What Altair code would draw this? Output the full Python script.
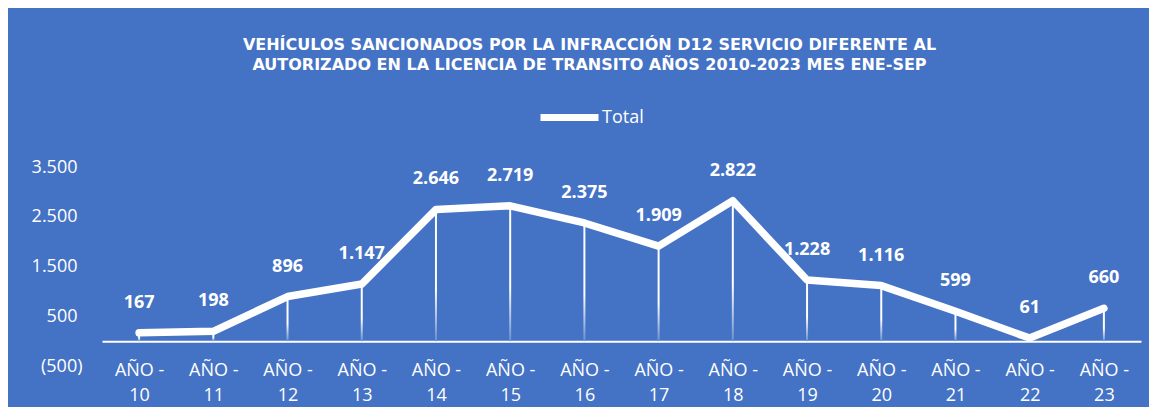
import altair as alt
import pandas as pd

categorias = ["AÑO - 10", "AÑO - 11", "AÑO - 12", "AÑO - 13", "AÑO - 14", "AÑO - 15",
              "AÑO - 16", "AÑO - 17", "AÑO - 18", "AÑO - 19", "AÑO - 20", "AÑO - 21",
              "AÑO - 22", "AÑO - 23"]
valores = [167, 198, 896, 1147, 2646, 2719, 2375, 1909, 2822, 1228, 1116, 599, 61, 660]
serie = ["Total"] * len(categorias)
y_ticks = [-500, 500, 1500, 2500, 3500]
titulo = ["VEHÍCULOS SANCIONADOS POR LA  INFRACCIÓN D12  SERVICIO DIFERENTE  AL",
          "AUTORIZADO EN LA LICENCIA DE TRANSITO  AÑOS 2010-2023 MES ENE-SEP"]

df = pd.DataFrame({"categoria": categorias, "valor": valores, "serie": serie})

BG = "#4472C4"
FONT = "Open Sans"

x_enc = alt.X(
    "categoria:N", sort=categorias,
    scale=alt.Scale(type="point", padding=0.5),
    axis=alt.Axis(
        title=None, labelAngle=0, ticks=False, grid=False,
        domainColor="#ffffff", domainWidth=2,
        labelColor="#ffffff", labelFont=FONT, labelFontSize=18,
        labelPadding=20, labelLineHeight=25, labelBaseline="top",
        labelOverlap=False, labelFlush=False,
        offset=-24.875,
        labelExpr="[slice(datum.label, 0, 5), slice(datum.label, 6)]",
    ),
)
y_enc = alt.Y(
    "valor:Q",
    scale=alt.Scale(domain=[-500, 3500], nice=False, zero=False),
    axis=alt.Axis(
        title=None, values=y_ticks, domain=False, ticks=False, grid=False,
        labelColor="#ffffff", labelFont=FONT, labelFontSize=18,
        labelPadding={"condition": {"test": "datum.value < 0", "value": 20}, "value": 25},
        labelExpr="datum.value < 0 ? '(' + replace(format(-datum.value, ','), ',', '.') + ')' : replace(format(datum.value, ','), ',', '.')",
    ),
)

base = alt.Chart(df)

drop = base.mark_bar(
    size=2,
    color={"gradient": "linear", "x1": 0, "y1": 0, "x2": 0, "y2": 1,
           "stops": [{"offset": 0, "color": "#ffffff"},
                     {"offset": 0.6, "color": "#ffffff"},
                     {"offset": 1, "color": "#6a8ed0"}]},
).encode(x=x_enc, y=y_enc, y2=alt.datum(0))

line = base.mark_line(strokeWidth=7.5, strokeCap="round", strokeJoin="round").encode(
    x=x_enc, y=y_enc,
    color=alt.Color("serie:N", scale=alt.Scale(range=["#ffffff"]),
                    legend=alt.Legend(title=None, orient="none", legendX=435, legendY=-82,
                                      symbolType="stroke", symbolSize=3364,
                                      symbolStrokeWidth=7, labelOffset=0,
                                      labelColor="#ffffff", labelFont=FONT,
                                      labelFontSize=18, padding=0)),
)

labels = base.transform_calculate(
    etiqueta="replace(format(datum.valor, ','), ',', '.')"
).mark_text(dy=-30, font=FONT, fontSize=18, fontWeight="bold", color="#ffffff").encode(
    x=x_enc, y=y_enc, text="etiqueta:N"
)

chart = alt.layer(drop, line, labels).properties(
    width=1039, height=199,
    padding={"left": 94, "top": 159, "right": 8, "bottom": 41},
    autosize=alt.AutoSizeParams(type="none"),
    background=BG,
    title=alt.TitleParams(text=titulo, color="#ffffff", font="DejaVu Sans", fontSize=16,
                          fontWeight="bold", anchor="middle", frame="group", dx=-32,
                          offset=12, lineHeight=20),
).configure_view(strokeWidth=0)

chart.save("out.html", embed_options={"renderer": "svg", "actions": False})
